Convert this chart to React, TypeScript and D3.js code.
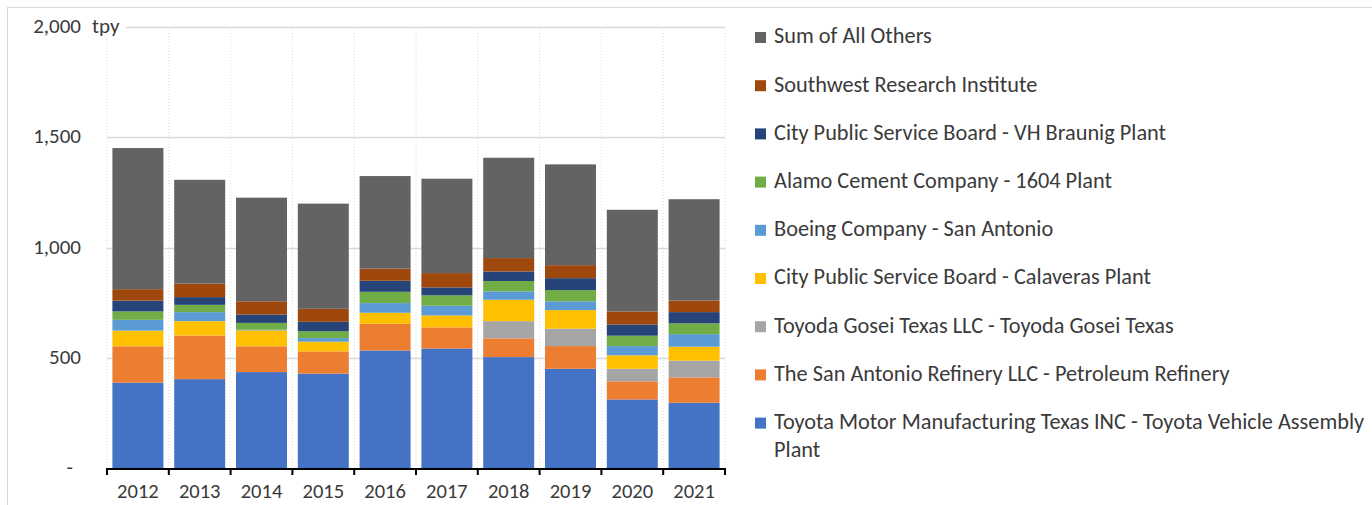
import React, { useEffect, useRef } from 'react';
import * as d3 from 'd3';

// emissions per facility, tpy
const years = ['2012', '2013', '2014', '2015', '2016', '2017', '2018', '2019', '2020', '2021'];
const toyotaMotor = [387, 403, 435, 428, 533, 542, 503, 450, 311, 296];
const sanAntonioRefinery = [165, 198, 117, 101, 121, 96, 85, 103, 82, 115];
const toyodaGosei = [0, 0, 0, 0, 0, 0, 78, 79, 57, 76];
const calaveras = [71, 65, 72, 44, 50, 54, 97, 84, 61, 63];
const boeing = [49, 41, 3, 16, 44, 44, 38, 40, 42, 57];
const alamoCement = [38, 33, 31, 31, 51, 47, 47, 51, 47, 49];
const vhBraunig = [49, 35, 38, 43, 50, 36, 43, 54, 51, 51];
const swri = [52, 61, 60, 59, 55, 65, 61, 59, 59, 52];
const allOthers = [640, 471, 470, 477, 420, 428, 455, 457, 461, 460];

const yTicks = [0, 500, 1000, 1500, 2000];

// bottom of the stack first
const seriesNames = [
  'Toyota Motor Manufacturing Texas INC - Toyota Vehicle Assembly Plant',
  'The San Antonio Refinery LLC - Petroleum Refinery',
  'Toyoda Gosei Texas LLC - Toyoda Gosei Texas',
  'City Public Service Board - Calaveras Plant',
  'Boeing Company - San Antonio',
  'Alamo Cement Company - 1604 Plant',
  'City Public Service Board - VH Braunig Plant',
  'Southwest Research Institute',
  'Sum of All Others'
];
const seriesValues = [toyotaMotor, sanAntonioRefinery, toyodaGosei, calaveras, boeing, alamoCement, vhBraunig, swri, allOthers];
const colors = ['#4472c4', '#ed7d31', '#a5a5a5', '#ffc000', '#5b9bd5', '#70ad47', '#264478', '#9e480e', '#636363'];

const FONT = 'Carlito, Calibri, Lato, sans-serif';
const TEXT = '#3a3a3a';

const margin = { left: 107, right: 647, top: 27, bottom: 37 };
const W = 1372,
  H = 505;

function Chart() {
  const ref = useRef<SVGSVGElement>(null);

  useEffect(() => {
    const svg = d3.select(ref.current);
    svg.selectAll('*').remove();

    const rows = years.map((y, i) => {
      const r: any = { year: y };
      seriesNames.forEach((n, s) => (r[n] = seriesValues[s][i]));
      return r;
    });
    const stacked = d3.stack().keys(seriesNames)(rows);

    const x = d3
      .scaleBand()
      .domain(years)
      .range([margin.left, W - margin.right])
      .paddingInner(0.175)
      .paddingOuter(0.0875);
    const y = d3
      .scaleLinear()
      .domain([0, 2000])
      .range([H - margin.bottom, margin.top]);
    const step = x.step();
    const x0 = margin.left;

    // chart frame
    svg
      .append('rect')
      .attr('x', 7.5)
      .attr('y', 7.5)
      .attr('width', 1400)
      .attr('height', 520)
      .attr('fill', 'white')
      .attr('stroke', '#d9d9d9');

    // horizontal grid
    svg
      .append('g')
      .selectAll('line')
      .data(yTicks.filter(t => t > 0))
      .enter()
      .append('line')
      .attr('x1', x0)
      .attr('x2', W - margin.right)
      .attr('y1', d => Math.round(y(d)) + 0.5)
      .attr('y2', d => Math.round(y(d)) + 0.5)
      .attr('stroke', '#d9d9d9')
      .attr('stroke-width', 1.5);

    // vertical dotted grid at category edges
    const edges = d3.range(years.length + 1).map(i => x0 + i * step);
    svg
      .append('g')
      .selectAll('line')
      .data(edges)
      .enter()
      .append('line')
      .attr('x1', d => d)
      .attr('x2', d => d)
      .attr('y1', y(2000))
      .attr('y2', y(0))
      .attr('stroke', '#dcdcdc')
      .attr('stroke-dasharray', '1,2');

    // bars
    svg
      .append('g')
      .selectAll('g')
      .data(stacked)
      .enter()
      .append('g')
      .attr('fill', (d, i) => colors[i])
      .selectAll('rect')
      .data(d => d)
      .enter()
      .append('rect')
      .attr('x', (d: any) => x(d.data.year) as number)
      .attr('width', x.bandwidth())
      .attr('y', d => y(d[1]))
      .attr('height', d => y(d[0]) - y(d[1]));

    // x axis line and ticks
    const axis = svg.append('g');
    axis
      .append('line')
      .attr('x1', x0 - 1)
      .attr('x2', W - margin.right + 1)
      .attr('y1', y(0) + 1)
      .attr('y2', y(0) + 1)
      .attr('stroke', '#000')
      .attr('stroke-width', 2);
    axis
      .selectAll('line.tick')
      .data(edges)
      .enter()
      .append('line')
      .attr('class', 'tick')
      .attr('x1', d => d)
      .attr('x2', d => d)
      .attr('y1', y(0))
      .attr('y2', y(0) + 7)
      .attr('stroke', '#000')
      .attr('stroke-width', 2);
    axis
      .selectAll('text')
      .data(years)
      .enter()
      .append('text')
      .attr('x', d => (x(d) as number) + x.bandwidth() / 2)
      .attr('y', y(0) + 25)
      .attr('text-anchor', 'middle')
      .attr('dominant-baseline', 'middle')
      .style('font-family', FONT)
      .style('font-size', '20.5px')
      .style('fill', TEXT)
      .text(d => d);

    // y tick labels
    svg
      .append('g')
      .selectAll('text')
      .data(yTicks)
      .enter()
      .append('text')
      .attr('x', d => (d === 0 ? 73 : 81))
      .attr('y', d => y(d) + 1)
      .attr('text-anchor', 'end')
      .attr('dominant-baseline', 'middle')
      .style('font-family', FONT)
      .style('font-size', '21px')
      .style('fill', TEXT)
      .text(d => (d === 0 ? '-' : d3.format(',')(d)));

    // unit label sits over the top grid line
    svg
      .append('rect')
      .attr('x', 86)
      .attr('y', y(2000) - 12)
      .attr('width', 40)
      .attr('height', 24)
      .attr('fill', 'white');
    svg
      .append('text')
      .attr('x', 92)
      .attr('y', y(2000) + 1)
      .attr('dominant-baseline', 'middle')
      .style('font-family', FONT)
      .style('font-size', '21px')
      .style('fill', TEXT)
      .text('tpy');

    // legend, top entry is the top of the stack
    const legendItems = seriesNames.map((n, i) => ({ name: n, color: colors[i] })).reverse();
    const lg = svg
      .append('g')
      .selectAll('g')
      .data(legendItems)
      .enter()
      .append('g')
      .attr('transform', (d, i) => `translate(755, ${37 + i * 48.2})`);
    lg.append('rect')
      .attr('x', 0)
      .attr('y', -5)
      .attr('width', 11)
      .attr('height', 11)
      .attr('fill', d => d.color);
    const lt = lg
      .append('text')
      .attr('x', 19)
      .attr('y', 1)
      .attr('dominant-baseline', 'middle')
      .style('font-family', FONT)
      .style('font-size', '22.3px')
      .style('fill', TEXT);
    lt.each(function (d) {
      const t = d3.select(this);
      if (d.name.length > 60) {
        const cut = d.name.lastIndexOf(' ');
        t.append('tspan').attr('x', 19).text(d.name.slice(0, cut));
        t.append('tspan').attr('x', 19).attr('dy', 28).text(d.name.slice(cut + 1));
      } else {
        t.text(d.name);
      }
    });
  }, []);

  return <svg ref={ref} width={W} height={H} style={{ position: 'absolute', left: 0, top: 0, background: 'white' }} />;
}

export default function App() {
  return <Chart />;
}
